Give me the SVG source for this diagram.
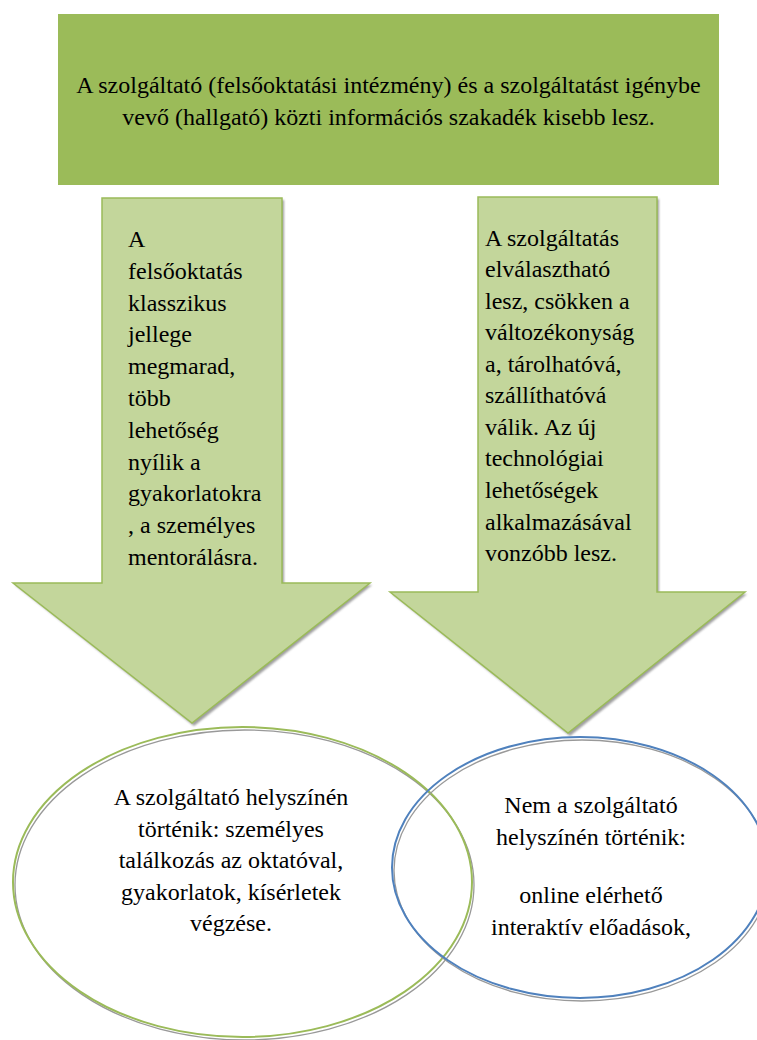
<svg xmlns="http://www.w3.org/2000/svg" width="757" height="1040" viewBox="0 0 757 1040">
  <style>
    .arrow { fill: #c3d69b; stroke: #9bbb59; stroke-width: 1.5; stroke-linejoin: miter; }
    .ashadow { fill: #7f7f7f; opacity: 0.75; }
    .eshadow { fill: none; stroke: #999999; stroke-width: 1.3; }
    .t { font-family: 'Liberation Serif', 'DejaVu Serif', serif; font-size: 24px; fill: #000000; }
  </style>
  <defs>
    <filter id="soft" x="-5%" y="-5%" width="110%" height="110%">
      <feGaussianBlur stdDeviation="0.8"/>
    </filter>
  </defs>
  <rect width="757" height="1040" fill="#ffffff"/>

  <g class="t">
  <g id="top-box">
    <rect x="58" y="14" width="661" height="171" fill="#9bbb59"/>
    <text text-anchor="middle" x="388.5" y="93">A szolgáltató (felsőoktatási intézmény) és a szolgáltatást igénybe</text>
    <text text-anchor="middle" x="388.5" y="125">vevő (hallgató) közti információs szakadék kisebb lesz.</text>
  </g>

  <g id="connectors">
    <g id="arrow-left">
      <polygon class="ashadow" filter="url(#soft)" points="104,200 284,200 284,585 372,585 194,726 15,585 104,585"/>
      <polygon class="arrow" points="102,198 282,198 282,583 370,583 192,723 13,583 102,583"/>
      <text x="128" y="247">A</text>
      <text x="128" y="279">felsőoktatás</text>
      <text x="128" y="311">klasszikus</text>
      <text x="128" y="342">jellege</text>
      <text x="128" y="374">megmarad,</text>
      <text x="128" y="406">több</text>
      <text x="128" y="438">lehetőség</text>
      <text x="128" y="470">nyílik a</text>
      <text x="128" y="501">gyakorlatokra</text>
      <text x="128" y="533">, a személyes</text>
      <text x="128" y="565">mentorálásra.</text>
    </g>
    <g id="arrow-right">
      <polygon class="ashadow" filter="url(#soft)" points="480,199 659,199 659,594 747,594 570,736 392,594 480,594"/>
      <polygon class="arrow" points="478,197 657,197 657,592 745,592 568,733 390,592 478,592"/>
      <text x="485" y="246">A szolgáltatás</text>
      <text x="485" y="277">elválasztható</text>
      <text x="485" y="309">lesz, csökken a</text>
      <text x="485" y="340">változékonyság</text>
      <text x="485" y="372">a, tárolhatóvá,</text>
      <text x="485" y="403">szállíthatóvá</text>
      <text x="485" y="435">válik. Az új</text>
      <text x="485" y="466">technológiai</text>
      <text x="485" y="498">lehetőségek</text>
      <text x="485" y="530">alkalmazásával</text>
      <text x="485" y="561">vonzóbb lesz.</text>
    </g>
  </g>

  <g id="ellipse-left">
    <ellipse class="eshadow" cx="244.5" cy="885" rx="229.5" ry="155"/>
    <ellipse cx="242.5" cy="882" rx="229.5" ry="155" fill="none" stroke="#9bbb59" stroke-width="2"/>
    <text text-anchor="middle" x="231" y="805">A szolgáltató helyszínén</text>
    <text text-anchor="middle" x="231" y="837">történik: személyes</text>
    <text text-anchor="middle" x="231" y="868">találkozás az oktatóval,</text>
    <text text-anchor="middle" x="231" y="900">gyakorlatok, kísérletek</text>
    <text text-anchor="middle" x="231" y="931">végzése.</text>
  </g>

  <g id="ellipse-right">
    <ellipse class="eshadow" cx="582" cy="870.5" rx="188" ry="130.5"/>
    <ellipse cx="580" cy="867.5" rx="188" ry="130.5" fill="none" stroke="#4f81bd" stroke-width="2"/>
    <text text-anchor="middle" x="591" y="813">Nem a szolgáltató</text>
    <text text-anchor="middle" x="591" y="845">helyszínén történik:</text>
    <text text-anchor="middle" x="591" y="903">online elérhető</text>
    <text text-anchor="middle" x="591" y="935">interaktív előadások,</text>
  </g>
  </g>
</svg>
